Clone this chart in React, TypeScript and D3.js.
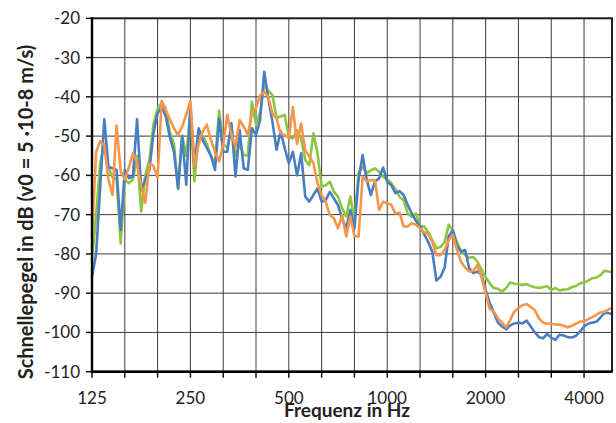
import React, { useEffect, useRef } from "react";
import * as d3 from "d3";

// frequency points (Hz), 1/24 octave
const freqs = [
  125, 128.7, 132.4, 136.3, 140.3, 144.4, 148.6, 153, 157.5, 162.1, 166.8, 171.7, 176.8, 181.9, 187.3, 192.7, 198.4, 204.2, 210.2, 216.3, 222.7, 229.2, 235.9, 242.8,
  250, 257.3, 264.9, 272.6, 280.6, 288.8, 297.3, 306, 315, 324.2, 333.7, 343.5, 353.6, 363.9, 374.6, 385.5, 396.8, 408.4, 420.4, 432.7, 445.4, 458.5, 471.9, 485.7,
  500, 514.6, 529.7, 545.3, 561.2, 577.6, 594.6, 612, 629.9, 648.4, 667.4, 687, 707.1, 727.8, 749.1, 771.1, 793.7, 816.9, 840.9, 865.5, 890.9, 917, 943.9, 971.5,
  1000, 1029, 1059, 1091, 1122, 1155, 1189, 1224, 1260, 1297, 1335, 1374, 1414, 1456, 1498, 1542, 1587, 1634, 1682, 1731, 1782, 1834, 1888, 1943,
  2000, 2059, 2119, 2181, 2245, 2311, 2378, 2448, 2520, 2594, 2670, 2748, 2828, 2911, 2997, 3084, 3175, 3268, 3364, 3462, 3564, 3668, 3776, 3886,
  4000, 4117, 4238, 4362, 4490, 4621, 4757, 4870,
];

const blueSeries = [
  -85.8, -80, -63, -45.7, -57.8, -58.2, -58.6, -73.9, -58.6, -60.7, -60.3, -45.7, -63.7, -61.1, -58.6, -49.3, -44.2, -42.5, -45, -50.2, -54, -63.3, -49.9, -62.4,
  -42, -58, -48, -51, -53, -55, -58.6, -45.5, -54, -54, -46.7, -60.3, -48.4, -58.2, -58.6, -48, -49.7, -45.9, -33.6, -40.4, -46.3, -53.5, -48.8, -53.1,
  -56.9, -54, -60, -54.4, -65.4, -66.7, -65, -63.3, -66.7, -66.3, -64.2, -65.9, -67.6, -71, -73.5, -68.8, -73.5, -61.2, -54.8, -61.2, -65, -61.6, -60.8, -58,
  -61.6, -62.5, -64.5, -64, -65, -67.5, -69.7, -71.6, -73, -75, -77, -79.5, -86.8, -85.8, -83.5, -75.5, -74, -78, -79.4, -79, -83.7, -84.9, -84.5, -85.4,
  -89.2, -92.5, -95, -97.5, -98.5, -99.2, -98.2, -97.7, -97.5, -97.7, -97, -98.5, -100, -101.2, -101.5, -100.4, -101.3, -101.9, -100.6, -100.8, -101.2, -101.3, -100.9, -99.8,
  -98.5, -97.8, -97.5, -97.3, -96.2, -95, -95.1, -95.3,
];

const greenSeries = [
  -81.5, -70, -57, -52, -58, -60.5, -61, -77.3, -61, -62, -61, -55, -69.2, -60, -56, -47, -43, -41.5, -43, -49, -52, -63.5, -50, -55,
  -44, -61.5, -49, -50, -52, -55, -57, -43.5, -52, -53, -48, -55, -52, -54.8, -55, -41.2, -47, -44, -37, -38.5, -39.5, -45.4, -45, -44.6,
  -50.2, -50.6, -48.5, -50.6, -56.1, -57.4, -49.3, -54.4, -62.9, -62.5, -61.6, -64.2, -65.4, -68.4, -70.5, -65.4, -71.4, -59.5, -57.8, -59.5, -58.7, -58.2, -59.1, -60.4,
  -61, -62, -63.5, -65.5, -66.3, -69.7, -70.5, -69.7, -73, -73, -74.5, -76.5, -78.6, -78.2, -77, -72.6, -74, -77, -79.4, -80.3, -81, -80.8, -82, -84,
  -86, -87.5, -88.7, -88.9, -89.6, -88.7, -87.3, -87.6, -87.7, -87.9, -87.7, -88.2, -88.5, -88.7, -88.5, -88.2, -89.2, -88.7, -89.3, -89.1, -89, -88.5, -88.2, -87.5,
  -87.3, -86.8, -86.2, -86, -85.4, -84.3, -84.5, -84.6,
];

const orangeSeries = [
  -75.6, -54, -51.3, -52.3, -61, -65, -47.3, -59, -61, -58, -54.3, -57, -63, -67, -57, -57.5, -60.7, -41, -43.4, -45.7, -48, -49.8, -47.6, -44.5,
  -41, -57.8, -52, -48.8, -47.1, -51, -54, -56.5, -52.2, -44.6, -49.7, -52.7, -45.9, -47.6, -49.7, -44.2, -42.9, -39.6, -38.7, -40, -44.2, -45.5, -49.3, -49.7,
  -50.5, -42.6, -52, -46.8, -53.6, -55.2, -56.9, -62, -65, -66.7, -70.1, -70.9, -73.5, -70.1, -75.6, -70.5, -75.4, -75.6, -60.3, -61.6, -61.2, -61.2, -68.8, -66.7,
  -67.1, -67.5, -69.7, -69.5, -73, -73, -72.2, -72.6, -73.5, -74.5, -75, -77, -80.3, -80.3, -79, -76.5, -75.2, -79, -82, -83.5, -84.5, -84.3, -82.8, -86,
  -90, -94, -94.7, -96.4, -97.5, -98.7, -96.8, -94.7, -93.8, -93, -92.8, -93.5, -94.3, -96.4, -97.5, -97.8, -97.8, -98, -98, -98.3, -98.7, -98.3, -97.8, -97.2,
  -97.2, -96.6, -96.1, -95.5, -94.9, -94.7, -94.1, -93.8,
];

const gridFreqs = [125, 157.5, 198.4, 250, 315, 396.8, 500, 630, 793.7, 1000, 1260, 1587, 2000, 2520, 3175, 4000];
const xLabels = [125, 250, 500, 1000, 2000, 4000];
const yTicks = [-110, -100, -90, -80, -70, -60, -50, -40, -30, -20];

export default function App() {
  const ref = useRef(null);

  useEffect(() => {
    const width = 616;
    const height = 423;
    const left = 92;
    const right = 612;
    const top = 18.3;
    const bottom = 371.7;
    const font = "Lato, 'Open Sans', sans-serif";

    const svg = d3.select(ref.current);
    svg.selectAll("*").remove();
    svg.attr("width", width).attr("height", height);

    svg.append("rect").attr("width", width).attr("height", height).attr("fill", "white");

    const x = d3.scaleLog().domain([125, 4870]).range([left, right]);
    const y = d3.scaleLinear().domain([-110, -20]).range([bottom, top]);

    // grid
    const grid = svg.append("g").attr("stroke", "#3a3a3a").attr("stroke-width", 1);
    grid
      .selectAll("line.v")
      .data(gridFreqs)
      .join("line")
      .attr("class", "v")
      .attr("x1", (d) => x(d))
      .attr("x2", (d) => x(d))
      .attr("y1", top)
      .attr("y2", bottom);
    grid
      .selectAll("line.h")
      .data(yTicks)
      .join("line")
      .attr("class", "h")
      .attr("x1", left)
      .attr("x2", right)
      .attr("y1", (d) => y(d))
      .attr("y2", (d) => y(d));

    // tick marks
    svg
      .append("g")
      .attr("stroke", "#111")
      .attr("stroke-width", 1.5)
      .selectAll("line")
      .data(gridFreqs)
      .join("line")
      .attr("x1", (d) => x(d))
      .attr("x2", (d) => x(d))
      .attr("y1", bottom)
      .attr("y2", bottom + 6);
    svg
      .append("g")
      .attr("stroke", "#111")
      .attr("stroke-width", 1.5)
      .selectAll("line")
      .data(yTicks)
      .join("line")
      .attr("x1", left - 6)
      .attr("x2", left)
      .attr("y1", (d) => y(d))
      .attr("y2", (d) => y(d));

    // series
    const line = d3
      .line<number>()
      .x((d, i) => x(freqs[i]))
      .y((d) => y(d));

    const series = [
      { values: greenSeries, color: "#8cc63e" },
      { values: blueSeries, color: "#4a7ec2" },
      { values: orangeSeries, color: "#f7964a" },
    ];

    svg
      .append("g")
      .selectAll("path")
      .data(series)
      .join("path")
      .attr("d", (d) => line(d.values))
      .attr("fill", "none")
      .attr("stroke", (d) => d.color)
      .attr("stroke-width", 2.6)
      .attr("stroke-linejoin", "round")
      .attr("stroke-linecap", "round");

    // plot border and axes
    svg
      .append("rect")
      .attr("x", left)
      .attr("y", top)
      .attr("width", right - left)
      .attr("height", bottom - top)
      .attr("fill", "none")
      .attr("stroke", "#222")
      .attr("stroke-width", 2);
    svg.append("line").attr("x1", left).attr("x2", left).attr("y1", top - 1).attr("y2", bottom + 1).attr("stroke", "#000").attr("stroke-width", 2.4);
    svg.append("line").attr("x1", left - 1).attr("x2", right).attr("y1", bottom).attr("y2", bottom).attr("stroke", "#000").attr("stroke-width", 2.4);

    // tick labels
    svg
      .append("g")
      .attr("font-family", font)
      .attr("font-size", 17)
      .attr("fill", "#222")
      .attr("text-anchor", "end")
      .selectAll("text")
      .data(yTicks)
      .join("text")
      .attr("x", 80)
      .attr("y", (d) => y(d) + 6)
      .text((d) => d);

    svg
      .append("g")
      .attr("font-family", font)
      .attr("font-size", 17)
      .attr("fill", "#222")
      .attr("text-anchor", "middle")
      .selectAll("text")
      .data(xLabels)
      .join("text")
      .attr("x", (d) => x(d))
      .attr("y", 404)
      .text((d) => d);

    // axis titles
    svg
      .append("text")
      .attr("x", 347)
      .attr("y", 417)
      .attr("text-anchor", "middle")
      .attr("font-family", font)
      .attr("font-weight", "bold")
      .attr("font-size", 19)
      .attr("fill", "#222")
      .text("Frequenz in Hz");

    svg
      .append("text")
      .attr("transform", "translate(33,212) rotate(-90)")
      .attr("text-anchor", "middle")
      .attr("font-family", font)
      .attr("font-weight", "bold")
      .attr("font-size", 20)
      .attr("fill", "#222")
      .text("Schnellepegel in dB (v0 = 5 ·10-8 m/s)");
  }, []);

  return <svg ref={ref} style={{ position: "absolute", left: 0, top: 0 }} />;
}
